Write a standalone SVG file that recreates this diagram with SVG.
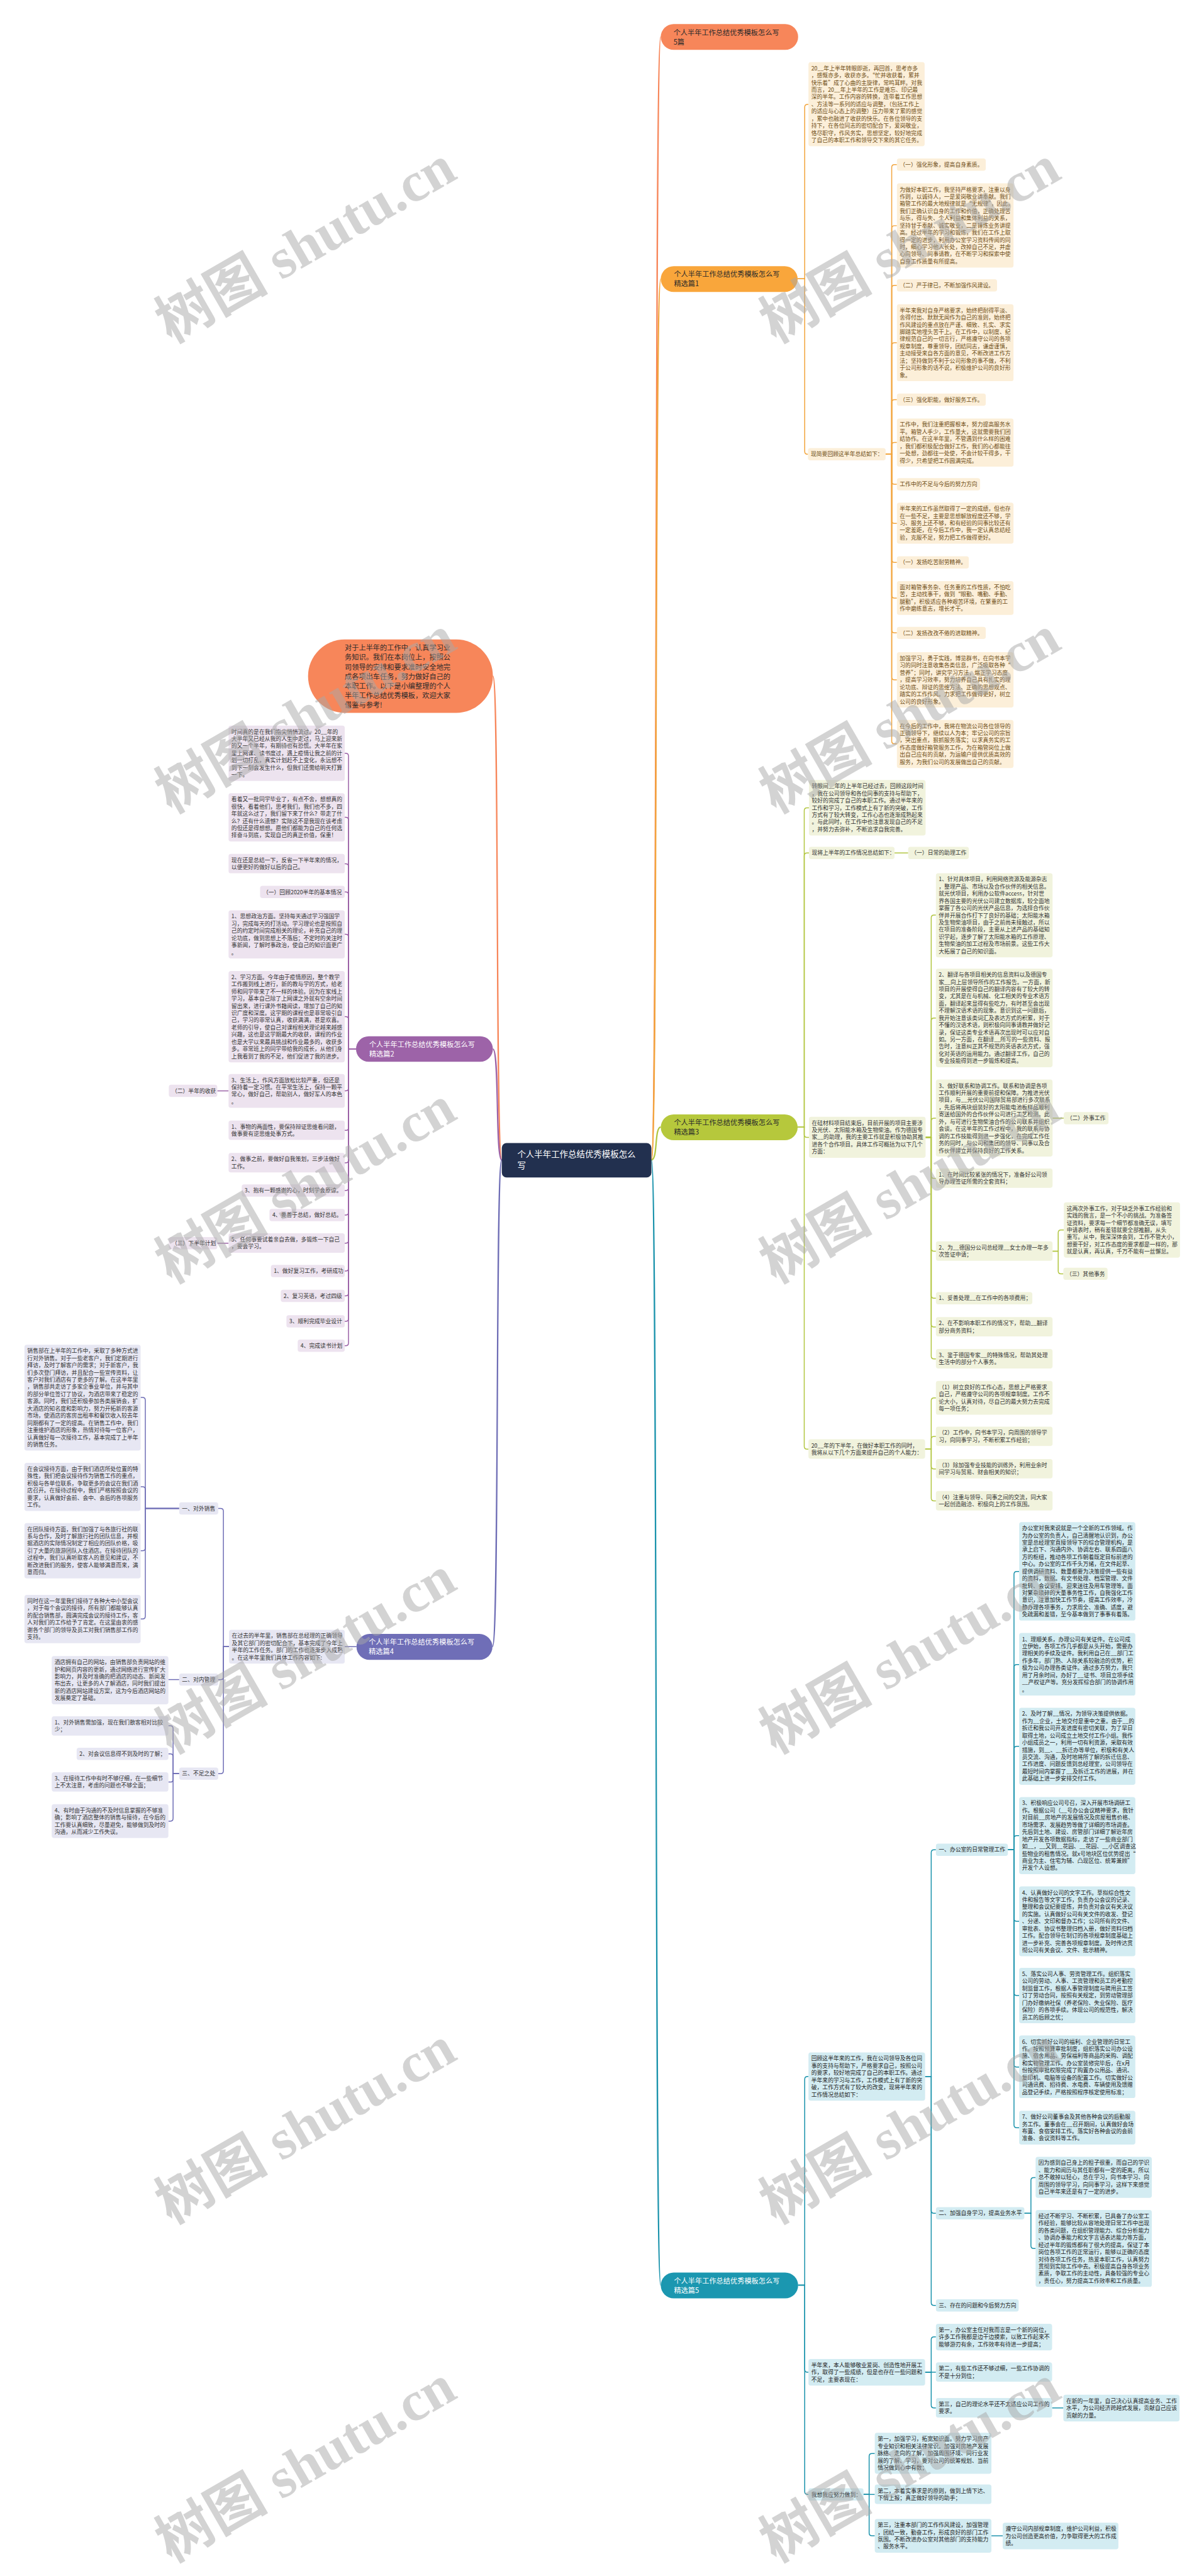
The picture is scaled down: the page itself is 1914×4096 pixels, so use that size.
<svg xmlns="http://www.w3.org/2000/svg" width="1914" height="4096" viewBox="0 0 1914 4096">
<style>
text{font-family:"Noto Sans CJK SC","Noto Sans",sans-serif;font-size:11.8px}
.bt{font-size:15px}
.rt{font-size:18px;fill:#fff}
.o rect{fill:#FCEFD9}.o text{fill:#6e4d14}
.p rect{fill:#EDE3EF}.p text{fill:#333}
.g rect{fill:#F1F3DD}.g text{fill:#333}
.s rect{fill:#E7E7F3}.s text{fill:#333}
.t rect{fill:#D3ECF2}.t text{fill:#222}
.c{fill:none;stroke-width:2}
.m{fill:none;stroke-width:3}
.co{stroke:#F2A53D}.cp{stroke:#9C62A7}.cg{stroke:#B2C640}.cs{stroke:#6E6DB5}.ct{stroke:#1B93AC}.cc{stroke:#F7865A}
.wm text{font-family:"Liberation Serif","Noto Sans CJK SC",serif;font-size:120px;font-weight:bold;fill:#a8a8a8;opacity:.5}
</style>
<rect width="1914" height="4096" fill="#fff"/>
<g transform="scale(0.747656)">
<g id="connectors">
<path class="m cc" d="M1385 2467C1399 2467 1391 78 1405 78"/>
<path class="m co" d="M1385 2467C1399 2467 1391 593 1405 593"/>
<path class="m cg" d="M1385 2467C1399 2467 1391 2397 1405 2397"/>
<path class="m ct" d="M1385 2467C1399 2467 1391 4860 1405 4860"/>
<path class="m cc" d="M1067 2467C1053 2467 1062 1438 1048 1438"/>
<path class="m cp" d="M1067 2467C1053 2467 1062 2231 1048 2231"/>
<path class="m cs" d="M1067 2467C1053 2467 1062 3502 1047 3502"/>
<g class="c co">
<path d="M1696 593H1711V228Q1711 222 1717 222H1719"/>
<path d="M1696 593H1711V960Q1711 966 1717 966H1718"/>
<path d="M1883 966H1896V356Q1896 350 1902 350H1907"/>
<path d="M1883 966H1896V486Q1896 480 1902 480H1907"/>
<path d="M1883 966H1896V613Q1896 607 1902 607H1907"/>
<path d="M1883 966H1896V735Q1896 729 1902 729H1907"/>
<path d="M1883 966H1896V856Q1896 850 1902 850H1907"/>
<path d="M1883 966H1896V947Q1896 941 1902 941H1907"/>
<path d="M1883 966H1896V1024Q1896 1030 1902 1030H1907"/>
<path d="M1883 966H1896V1107Q1896 1113 1902 1113H1907"/>
<path d="M1883 966H1896V1190Q1896 1196 1902 1196H1907"/>
<path d="M1883 966H1896V1266Q1896 1272 1902 1272H1907"/>
<path d="M1883 966H1896V1340Q1896 1346 1902 1346H1907"/>
<path d="M1883 966H1896V1440Q1896 1446 1902 1446H1907"/>
<path d="M1883 966H1896V1576Q1896 1582 1902 1582H1907"/>
</g>
<g class="c cg">
<path d="M1696 2397H1710V1724Q1710 1718 1716 1718H1720"/>
<path d="M1696 2397H1710V1820Q1710 1814 1716 1814H1720"/>
<path d="M1696 2397H1710V2413Q1710 2419 1716 2419H1720"/>
<path d="M1696 2397H1710V3076Q1710 3082 1716 3082H1719"/>
<path d="M1902 1814H1931"/>
<path d="M1968 2419H1980V1952Q1980 1946 1986 1946H1990"/>
<path d="M1968 2419H1980V2171Q1980 2165 1986 2165H1990"/>
<path d="M1968 2419H1980V2384Q1980 2378 1986 2378H1990"/>
<path d="M1968 2419H1980V2500Q1980 2506 1986 2506H1990"/>
<path d="M1968 2419H1980V2655Q1980 2661 1986 2661H1990"/>
<path d="M1968 2419H1980V2755Q1980 2761 1986 2761H1990"/>
<path d="M1968 2419H1980V2816Q1980 2822 1986 2822H1990"/>
<path d="M1968 2419H1980V2884Q1980 2890 1986 2890H1990"/>
<path d="M2238 2378H2262"/>
<path d="M2238 2661H2250V2622Q2250 2616 2256 2616H2262"/>
<path d="M2238 2661H2250V2703Q2250 2709 2256 2709H2261"/>
<path d="M1967 3082H1980V2979Q1980 2973 1986 2973H1990"/>
<path d="M1967 3082H1980V3061Q1980 3055 1986 3055H1990"/>
<path d="M1967 3082H1980V3118Q1980 3124 1986 3124H1990"/>
<path d="M1967 3082H1980V3186Q1980 3192 1986 3192H1990"/>
</g>
<g class="c ct">
<path d="M1697 4860H1711V4422Q1711 4416 1717 4416H1719"/>
<path d="M1697 4860H1711V5039Q1711 5045 1717 5045H1719"/>
<path d="M1697 4860H1711V5299Q1711 5305 1717 5305H1719"/>
<path d="M1967 4416H1980V3940Q1980 3934 1986 3934H1990"/>
<path d="M1967 4416H1980V4701Q1980 4707 1986 4707H1990"/>
<path d="M1967 4416H1980V4897Q1980 4903 1986 4903H1990"/>
<path d="M2143 3934H2156V3348Q2156 3342 2162 3342H2167"/>
<path d="M2143 3934H2156V3546Q2156 3540 2162 3540H2167"/>
<path d="M2143 3934H2156V3720Q2156 3714 2162 3714H2167"/>
<path d="M2143 3934H2156V3910Q2156 3904 2162 3904H2167"/>
<path d="M2143 3934H2156V4080Q2156 4086 2162 4086H2167"/>
<path d="M2143 3934H2156V4238Q2156 4244 2162 4244H2167"/>
<path d="M2143 3934H2156V4390Q2156 4396 2162 4396H2167"/>
<path d="M2143 3934H2156V4519Q2156 4525 2162 4525H2167"/>
<path d="M2178 4707H2192V4637Q2192 4631 2198 4631H2202"/>
<path d="M2178 4707H2192V4776Q2192 4782 2198 4782H2202"/>
<path d="M1967 5045H1980V4976Q1980 4970 1986 4970H1990"/>
<path d="M1967 5045H1990"/>
<path d="M1967 5045H1980V5115Q1980 5121 1986 5121H1990"/>
<path d="M2237 5121H2261"/>
<path d="M1836 5305H1848V5224Q1848 5218 1854 5218H1860"/>
<path d="M1836 5305H1860"/>
<path d="M1836 5305H1848V5387Q1848 5393 1854 5393H1860"/>
<path d="M2108 5393H2132"/>
</g>
<g class="c cp">
<path d="M757 2231H741V1608Q741 1602 735 1602H733"/>
<path d="M757 2231H741V1744Q741 1738 735 1738H733"/>
<path d="M757 2231H741V1843Q741 1837 735 1837H733"/>
<path d="M757 2231H741V1903Q741 1897 735 1897H733"/>
<path d="M757 2231H741V1993Q741 1987 735 1987H733"/>
<path d="M757 2231H741V2168Q741 2162 735 2162H733"/>
<path d="M757 2231H741V2314Q741 2320 735 2320H733"/>
<path d="M757 2231H741V2398Q741 2404 735 2404H733"/>
<path d="M757 2231H741V2467Q741 2473 735 2473H733"/>
<path d="M757 2231H741V2526Q741 2532 735 2532H733"/>
<path d="M757 2231H741V2578Q741 2584 735 2584H733"/>
<path d="M757 2231H741V2638Q741 2644 735 2644H733"/>
<path d="M757 2231H741V2697Q741 2703 735 2703H733"/>
<path d="M757 2231H741V2750Q741 2756 735 2756H733"/>
<path d="M757 2231H741V2804Q741 2810 735 2810H733"/>
<path d="M757 2231H741V2856Q741 2862 735 2862H733"/>
<path d="M486 2320H462"/>
<path d="M486 2644H462"/>
</g>
<g class="c cs">
<path d="M758 3502H733"/>
<path d="M487 3502H475V3214Q475 3208 469 3208H464"/>
<path d="M487 3502H475V3566Q475 3572 469 3572H464"/>
<path d="M487 3502H475V3766Q475 3772 469 3772H464"/>
<path d="M381 3572H358"/>
<path d="M381 3772H368V3676Q368 3670 362 3670H358"/>
<path d="M381 3772H368V3736Q368 3730 362 3730H358"/>
<path d="M381 3772H368V3784Q368 3790 362 3790H358"/>
<path d="M381 3772H368V3867Q368 3873 362 3873H358"/>
<path d="M381 3208H309V2978Q309 2972 303 2972H299"/>
<path d="M381 3208H309V3168Q309 3162 303 3162H299"/>
<path d="M381 3208H309V3292Q309 3298 303 3298H299"/>
<path d="M381 3208H309V3437Q309 3443 303 3443H299"/>
</g>
</g>

<g id="root"><rect x="1067" y="2431" width="318" height="73" rx="10" fill="#22304F"/><text class="rt" x="1100" y="2461.5"><tspan x="1100">个人半年工作总结优秀模板怎么</tspan><tspan x="1100" dy="24">写</tspan></text></g>

<g id="b-5pian"><rect x="1405" y="51" width="292" height="55" rx="27.5" fill="#F7865A"/><text class="bt" x="1432" y="74.4" fill="#2a2a2a"><tspan x="1432">个人半年工作总结优秀模板怎么写</tspan><tspan x="1432" dy="20">5篇</tspan></text></g>
<g id="b-1"><rect x="1405" y="566" width="291" height="55" rx="27.5" fill="#F9A63B"/><text class="bt" x="1433" y="588.4" fill="#2a2a2a"><tspan x="1433">个人半年工作总结优秀模板怎么写</tspan><tspan x="1433" dy="20">精选篇1</tspan></text></g>
<g id="b-3"><rect x="1405" y="2370" width="291" height="55" rx="27.5" fill="#B6C83C"/><text class="bt" x="1433" y="2393.4" fill="#2a2a2a"><tspan x="1433">个人半年工作总结优秀模板怎么写</tspan><tspan x="1433" dy="20">精选篇3</tspan></text></g>
<g id="b-5"><rect x="1405" y="4833" width="292" height="55" rx="27.5" fill="#1B97B0"/><text class="bt" x="1433" y="4856.4" fill="#fff"><tspan x="1433">个人半年工作总结优秀模板怎么写</tspan><tspan x="1433" dy="20">精选篇5</tspan></text></g>
<g id="b-2"><rect x="757" y="2204" width="291" height="54" rx="27" fill="#9D63A8"/><text class="bt" x="785" y="2226.4" fill="#fff"><tspan x="785">个人半年工作总结优秀模板怎么写</tspan><tspan x="785" dy="20">精选篇2</tspan></text></g>
<g id="b-4"><rect x="758" y="3475" width="289" height="55" rx="27.5" fill="#6F6EB7"/><text class="bt" x="784" y="3497.4" fill="#fff"><tspan x="784">个人半年工作总结优秀模板怎么写</tspan><tspan x="784" dy="20">精选篇4</tspan></text></g>
<g id="b-intro"><rect x="655" y="1360" width="393" height="156" rx="78" fill="#F7865A"/><text class="bt" x="733" y="1383.4" fill="#2a2a2a"><tspan x="733">对于上半年的工作中，认真学习业</tspan><tspan x="733" dy="20.2">务知识。我们在本岗位上，按照公</tspan><tspan x="733" dy="20.2">司领导的安排和要求准时安全地完</tspan><tspan x="733" dy="20.2">成各项出车任务，努力做好自己的</tspan><tspan x="733" dy="20.2">本职工作。以下是小编整理的个人</tspan><tspan x="733" dy="20.2">半年工作总结优秀模板，欢迎大家</tspan><tspan x="733" dy="20.2">借鉴与参考!</tspan></text></g>

<g class="o">
<g id="o-p0"><rect x="1719" y="132" width="247" height="179" rx="5"/><text x="1725" y="149.3"><tspan x="1725">20__年上半年转眼即逝，再回首，思考亦多</tspan><tspan x="1725" dy="15.3">，感慨亦多，收获亦多。“忙并收获着，累并</tspan><tspan x="1725" dy="15.3">快乐着”成了心曲的主旋律，常鸣耳畔。对我</tspan><tspan x="1725" dy="15.3">而言，20__年上半年的工作是难忘、印记最</tspan><tspan x="1725" dy="15.3">深的半年。工作内容的转换，连带着工作思想</tspan><tspan x="1725" dy="15.3">、方法等一系列的适应与调整，（包括工作上</tspan><tspan x="1725" dy="15.3">的适应与心态上的调整）压力带来了累的感觉</tspan><tspan x="1725" dy="15.3">，累中也融进了收获的快乐。在各位领导的支</tspan><tspan x="1725" dy="15.3">持下，在各位同志的密切配合下，爱岗敬业，</tspan><tspan x="1725" dy="15.3">恪尽职守，作风务实，思想坚定，较好地完成</tspan><tspan x="1725" dy="15.3">了自己的本职工作和领导交下来的其它任务。</tspan></text></g>
<g id="o-sum"><rect x="1718" y="953" width="165" height="26" rx="5"/><text x="1724" y="970.3">现简要回顾这半年总结如下：</text></g>
<g id="o-c1"><rect x="1907" y="337" width="189" height="26" rx="5"/><text x="1913" y="354.3">（一）强化形象，提高自身素质。</text></g>
<g id="o-c2"><rect x="1907" y="390" width="248" height="179" rx="5"/><text x="1913" y="407.3"><tspan x="1913">为做好本职工作，我坚持严格要求，注重以身</tspan><tspan x="1913" dy="15.3">作则，以诚待人，一是爱岗敬业讲奉献。我们</tspan><tspan x="1913" dy="15.3">箱管工作的最大地规律就是“无规律”，因此，</tspan><tspan x="1913" dy="15.3">我们正确认识自身的工作和价值，正确处理苦</tspan><tspan x="1913" dy="15.3">与乐，得与失、个人利益和集体利益的关系，</tspan><tspan x="1913" dy="15.3">坚持甘于奉献、诚实敬业，二是锤炼业务讲提</tspan><tspan x="1913" dy="15.3">高。经过半年的学习和锻炼，我们在工作上取</tspan><tspan x="1913" dy="15.3">得一定的进步，利用办公室学习资料传阅的同</tspan><tspan x="1913" dy="15.3">时，细心学习他人长处，改掉自己不足，并虚</tspan><tspan x="1913" dy="15.3">心向领导、同事请教，在不断学习和探索中使</tspan><tspan x="1913" dy="15.3">自身工作质量有所提高。</tspan></text></g>
<g id="o-c3"><rect x="1907" y="594" width="213" height="26" rx="5"/><text x="1913" y="611.3">（二）严于律已，不断加强作风建设。</text></g>
<g id="o-c4"><rect x="1907" y="647" width="248" height="163.7" rx="5"/><text x="1913" y="664.3"><tspan x="1913">半年来我对自身严格要求，始终把耐得平淡、</tspan><tspan x="1913" dy="15.3">舍得付出、默默无闻作为自己的准则，始终把</tspan><tspan x="1913" dy="15.3">作风建设的重点放在严谨、细致、扎实、求实</tspan><tspan x="1913" dy="15.3">脚踏实地埋头苦干上。在工作中，以制度、纪</tspan><tspan x="1913" dy="15.3">律规范自己的一切言行，严格遵守公司的各项</tspan><tspan x="1913" dy="15.3">规章制度，尊重领导，团结同志，谦虚谨慎，</tspan><tspan x="1913" dy="15.3">主动接受来自各方面的意见，不断改进工作方</tspan><tspan x="1913" dy="15.3">法；坚持做到不利于公司形象的事不做，不利</tspan><tspan x="1913" dy="15.3">于公司形象的话不说，积极维护公司的良好形</tspan><tspan x="1913" dy="15.3">象。</tspan></text></g>
<g id="o-c5"><rect x="1907" y="837" width="189" height="26" rx="5"/><text x="1913" y="854.3">（三）强化职能，做好服务工作。</text></g>
<g id="o-c6"><rect x="1907" y="890" width="248" height="102.5" rx="5"/><text x="1913" y="907.3"><tspan x="1913">工作中，我们注重把握根本，努力提高服务水</tspan><tspan x="1913" dy="15.3">平。箱管人手少，工作量大，这就需要我们团</tspan><tspan x="1913" dy="15.3">结协作。在这半年里，不管遇到什么样的困难</tspan><tspan x="1913" dy="15.3">，我们都积极配合做好工作，我们的心都能往</tspan><tspan x="1913" dy="15.3">一处想，劲都往一处使，不会计较干得多，干</tspan><tspan x="1913" dy="15.3">得少，只希望把工作圆满完成。</tspan></text></g>
<g id="o-c7"><rect x="1907" y="1017" width="177" height="26" rx="5"/><text x="1913" y="1034.3">工作中的不足与今后的努力方向</text></g>
<g id="o-c8"><rect x="1907" y="1069" width="248" height="87.2" rx="5"/><text x="1913" y="1086.3"><tspan x="1913">半年来的工作虽然取得了一定的成绩，但也存</tspan><tspan x="1913" dy="15.3">在一些不足，主要是思想解放程度还不够，学</tspan><tspan x="1913" dy="15.3">习、服务上还不够，和有经验的同事比较还有</tspan><tspan x="1913" dy="15.3">一定差距，在今后工作中，我一定认真总结经</tspan><tspan x="1913" dy="15.3">验，克服不足，努力把工作做得更好。</tspan></text></g>
<g id="o-c9"><rect x="1907" y="1183" width="153" height="26" rx="5"/><text x="1913" y="1200.3">（一）发扬吃苦耐劳精神。</text></g>
<g id="o-c10"><rect x="1907" y="1236" width="248" height="71.9" rx="5"/><text x="1913" y="1253.3"><tspan x="1913">面对箱管事务杂、任务重的工作性质，不怕吃</tspan><tspan x="1913" dy="15.3">苦，主动找事干，做到“眼勤、嘴勤、手勤、</tspan><tspan x="1913" dy="15.3">腿勤”，积极适应各种艰苦环境，在繁重的工</tspan><tspan x="1913" dy="15.3">作中磨练意志，增长才干。</tspan></text></g>
<g id="o-c11"><rect x="1907" y="1333" width="189" height="26" rx="5"/><text x="1913" y="1350.3">（二）发扬孜孜不倦的进取精神。</text></g>
<g id="o-c12"><rect x="1907" y="1387" width="248" height="117.8" rx="5"/><text x="1913" y="1404.3"><tspan x="1913">加强学习，勇于实践，博览群书，在向书本学</tspan><tspan x="1913" dy="15.3">习的同时注意收集各类信息，广泛吸取各种“</tspan><tspan x="1913" dy="15.3">营养”；同时，讲究学习方法，端正学习态度</tspan><tspan x="1913" dy="15.3">，提高学习效率，努力培养自己具有扎实的理</tspan><tspan x="1913" dy="15.3">论功底、辩证的思维方法、正确的思想观点、</tspan><tspan x="1913" dy="15.3">踏实的工作作风。力求把工作做得更好，树立</tspan><tspan x="1913" dy="15.3">公司的良好形象。</tspan></text></g>
<g id="o-c13"><rect x="1907" y="1531" width="248" height="102.5" rx="5"/><text x="1913" y="1548.3"><tspan x="1913">在今后的工作中，我将在物流公司各位领导的</tspan><tspan x="1913" dy="15.3">正确领导下，继续以人为本；牢记公司的宗旨</tspan><tspan x="1913" dy="15.3">，突出重点，狠抓服务落实；以求真务实的工</tspan><tspan x="1913" dy="15.3">作态度做好箱管服务工作，为在箱管岗位上做</tspan><tspan x="1913" dy="15.3">出自己应有的贡献，为运输户提供优质高效的</tspan><tspan x="1913" dy="15.3">服务，为我们公司的发展做出自己的贡献。</tspan></text></g>
</g>

<g class="g">
<g id="g-1"><rect x="1720" y="1659" width="248" height="117.8" rx="5"/><text x="1726" y="1676.3"><tspan x="1726">转眼间__年的上半年已经过去，回顾这段时间</tspan><tspan x="1726" dy="15.3">，我在公司领导和各位同事的支持与帮助下，</tspan><tspan x="1726" dy="15.3">较好的完成了自己的本职工作。通过半年来的</tspan><tspan x="1726" dy="15.3">工作和学习，工作模式上有了新的突破，工作</tspan><tspan x="1726" dy="15.3">方式有了较大转变，工作心态也逐渐成熟起来</tspan><tspan x="1726" dy="15.3">。与此同时，在工作中也注意发现自己的不足</tspan><tspan x="1726" dy="15.3">，并努力去弥补，不断追求自我完善。</tspan></text></g>
<g id="g-2"><rect x="1720" y="1801" width="182" height="26" rx="5"/><text x="1726" y="1818.3">现将上半年的工作情况总结如下：</text></g>
<g id="g-2a"><rect x="1931" y="1801" width="129" height="26" rx="5"/><text x="1937" y="1818.3">（一）日常的助理工作</text></g>
<g id="g-3"><rect x="1720" y="2375" width="248" height="87.2" rx="5"/><text x="1726" y="2392.3"><tspan x="1726">在硅材料项目结束后，目前开展的项目主要涉</tspan><tspan x="1726" dy="15.3">及光伏、太阳能水箱及生物柴油。作为德国专</tspan><tspan x="1726" dy="15.3">家__的助理，我的主要工作就是积极协助其推</tspan><tspan x="1726" dy="15.3">进各个合作项目。具体工作可概括为以下几个</tspan><tspan x="1726" dy="15.3">方面：</tspan></text></g>
<g id="g-3c1"><rect x="1990" y="1857" width="248" height="179" rx="5"/><text x="1996" y="1874.3"><tspan x="1996">1、针对具体项目，利用网络资源及能源杂志</tspan><tspan x="1996" dy="15.3">，整理产品、市场以及合作伙伴的相关信息。</tspan><tspan x="1996" dy="15.3">就光伏项目，利用办公软件access，针对世</tspan><tspan x="1996" dy="15.3">界各国主要的光伏公司建立数据库，较全面地</tspan><tspan x="1996" dy="15.3">掌握了各公司的光伏产品信息，为选择合作伙</tspan><tspan x="1996" dy="15.3">伴并开展合作打下了良好的基础；太阳能水箱</tspan><tspan x="1996" dy="15.3">及生物柴油项目，由于之前尚未接触过，所以</tspan><tspan x="1996" dy="15.3">在项目的准备阶段，主要从上述产品的基础知</tspan><tspan x="1996" dy="15.3">识学起，逐步了解了太阳能水箱的工作原理、</tspan><tspan x="1996" dy="15.3">生物柴油的加工过程及市场前景。这些工作大</tspan><tspan x="1996" dy="15.3">大拓展了自己的知识面。</tspan></text></g>
<g id="g-3c2"><rect x="1990" y="2060" width="248" height="209.6" rx="5"/><text x="1996" y="2077.3"><tspan x="1996">2、翻译与各项目相关的信息资料以及德国专</tspan><tspan x="1996" dy="15.3">家__向上层领导所作的工作报告。一方面，新</tspan><tspan x="1996" dy="15.3">项目的开展使得自己的翻译内容有了较大的转</tspan><tspan x="1996" dy="15.3">变，尤其是在与机械、化工相关的专业术语方</tspan><tspan x="1996" dy="15.3">面，翻译起来显得有些吃力，有时甚至会出现</tspan><tspan x="1996" dy="15.3">不理解汉语术语的现象。意识到这一问题后，</tspan><tspan x="1996" dy="15.3">我开始注意该类词汇及表达方式的积累，对于</tspan><tspan x="1996" dy="15.3">不懂的汉语术语，则积极向同事请教并做好记</tspan><tspan x="1996" dy="15.3">录，保证这类专业术语再次出现时可以应对自</tspan><tspan x="1996" dy="15.3">如。另一方面，在翻译__所写的一些资料、报</tspan><tspan x="1996" dy="15.3">告时，注意纠正其不规范的英语表达方式，强</tspan><tspan x="1996" dy="15.3">化对英语的运用能力。通过翻译工作，自己的</tspan><tspan x="1996" dy="15.3">专业技能得到进一步锻炼和提高。</tspan></text></g>
<g id="g-3c3"><rect x="1990" y="2296" width="248" height="163.7" rx="5"/><text x="1996" y="2313.3"><tspan x="1996">3、做好联系和协调工作。联系和协调是各项</tspan><tspan x="1996" dy="15.3">工作顺利开展的重要前提和保障。为推进光伏</tspan><tspan x="1996" dy="15.3">项目，与__光伏公司国际贸易部进行多次联系</tspan><tspan x="1996" dy="15.3">，先后将两块组装好的太阳能电池板样品顺利</tspan><tspan x="1996" dy="15.3">寄送给国外的合作伙伴公司进行工艺检测。此</tspan><tspan x="1996" dy="15.3">外，与可进行生物柴油合作的公司联系并组织</tspan><tspan x="1996" dy="15.3">会谈。在这半年的工作过程中，我的联系与协</tspan><tspan x="1996" dy="15.3">调的工作技能得到进一步强化，在完成工作任</tspan><tspan x="1996" dy="15.3">务的同时，与公司和集团的领导、同事以及合</tspan><tspan x="1996" dy="15.3">作伙伴建立并保持良好的工作关系。</tspan></text></g>
<g id="g-3c3a"><rect x="2262" y="2365" width="95" height="26" rx="5"/><text x="2268" y="2382.3">（二）外事工作</text></g>
<g id="g-3c4"><rect x="1990" y="2485" width="248" height="41.3" rx="5"/><text x="1996" y="2502.3"><tspan x="1996">1、在时间比较紧张的情况下，准备好公司领</tspan><tspan x="1996" dy="15.3">导办理签证所需的全套资料；</tspan></text></g>
<g id="g-3c5a"><rect x="2262" y="2557" width="247" height="117.8" rx="5"/><text x="2268" y="2574.3"><tspan x="2268">这两次外事工作，对于缺乏外事工作经验和</tspan><tspan x="2268" dy="15.3">实践的我言，是一个不小的挑战。为准备签</tspan><tspan x="2268" dy="15.3">证资料，要求每一个细节都准确无误，填写</tspan><tspan x="2268" dy="15.3">申请表时，稍有差错就要全部推翻，从头</tspan><tspan x="2268" dy="15.3">重写。从中，我深深体会到，工作不管大小，</tspan><tspan x="2268" dy="15.3">想要干好，对工作态度的要求都是一样的，那</tspan><tspan x="2268" dy="15.3">就是认真，再认真，千万不能有一丝懈怠。</tspan></text></g>
<g id="g-3c5"><rect x="1990" y="2640" width="248" height="41.3" rx="5"/><text x="1996" y="2657.3"><tspan x="1996">2、为__德国分公司总经理__女士办理一年多</tspan><tspan x="1996" dy="15.3">次签证申请；</tspan></text></g>
<g id="g-3c5b"><rect x="2261" y="2696" width="94" height="26" rx="5"/><text x="2267" y="2713.3">（三）其他事务</text></g>
<g id="g-3c6"><rect x="1990" y="2748" width="205" height="26" rx="5"/><text x="1996" y="2765.3">1、妥善处理__在工作中的各项费用；</text></g>
<g id="g-3c7"><rect x="1990" y="2801" width="248" height="41.3" rx="5"/><text x="1996" y="2818.3"><tspan x="1996">2、在不影响本职工作的情况下，帮助__翻译</tspan><tspan x="1996" dy="15.3">部分商务资料；</tspan></text></g>
<g id="g-3c8"><rect x="1990" y="2869" width="248" height="41.3" rx="5"/><text x="1996" y="2886.3"><tspan x="1996">3、鉴于德国专家__的特殊情况，帮助其处理</tspan><tspan x="1996" dy="15.3">生活中的部分个人事务。</tspan></text></g>
<g id="g-4"><rect x="1719" y="3061" width="248" height="41.3" rx="5"/><text x="1725" y="3078.3"><tspan x="1725">20__年的下半年，在做好本职工作的同时，</tspan><tspan x="1725" dy="15.3">我将从以下几个方面来提升自己的个人能力：</tspan></text></g>
<g id="g-4c1"><rect x="1990" y="2937" width="248" height="71.9" rx="5"/><text x="1996" y="2954.3"><tspan x="1996">（1）树立良好的工作心态，思想上严格要求</tspan><tspan x="1996" dy="15.3">自己，严格遵守公司的各项规章制度。工作不</tspan><tspan x="1996" dy="15.3">论大小，认真对待，尽自己的最大努力去完成</tspan><tspan x="1996" dy="15.3">每一项任务；</tspan></text></g>
<g id="g-4c2"><rect x="1990" y="3034" width="248" height="41.3" rx="5"/><text x="1996" y="3051.3"><tspan x="1996">（2）工作中，向书本学习，向周围的领导学</tspan><tspan x="1996" dy="15.3">习，向同事学习，不断积累工作经验；</tspan></text></g>
<g id="g-4c3"><rect x="1990" y="3103" width="248" height="41.3" rx="5"/><text x="1996" y="3120.3"><tspan x="1996">（3）除加强专业技能的训练外，利用业余时</tspan><tspan x="1996" dy="15.3">间学习与贸易、财会相关的知识；</tspan></text></g>
<g id="g-4c4"><rect x="1990" y="3171" width="248" height="41.3" rx="5"/><text x="1996" y="3188.3"><tspan x="1996">（4）注重与领导、同事之间的交流，同大家</tspan><tspan x="1996" dy="15.3">一起创造融洽、积极向上的工作氛围。</tspan></text></g>
</g>

<g class="t">
<g id="t-0"><rect x="2167" y="3237" width="247" height="209.6" rx="5"/><text x="2173" y="3254.3"><tspan x="2173">办公室对我来说就是一个全新的工作领域。作</tspan><tspan x="2173" dy="15.3">为办公室的负责人，自己清醒地认识到，办公</tspan><tspan x="2173" dy="15.3">室是总经理室直接领导下的综合管理机构，是</tspan><tspan x="2173" dy="15.3">承上启下、沟通内外、协调左右、联系四面八</tspan><tspan x="2173" dy="15.3">方的枢纽，推动各项工作朝着既定目标前进的</tspan><tspan x="2173" dy="15.3">中心。办公室的工作千头万绪，在文件起草、</tspan><tspan x="2173" dy="15.3">提供调研资料、数量都要为决策提供一些有益</tspan><tspan x="2173" dy="15.3">的资料，数据。有文书处理、档案管理、文件</tspan><tspan x="2173" dy="15.3">批转、会议安排、迎来送往及用车管理等。面</tspan><tspan x="2173" dy="15.3">对繁杂琐碎的大量事务性工作，自我强化工作</tspan><tspan x="2173" dy="15.3">意识，注意加快工作节奏，提高工作效率，冷</tspan><tspan x="2173" dy="15.3">静办理各项事务，力求周全、准确、适度，避</tspan><tspan x="2173" dy="15.3">免疏漏和差错，至今基本做到了事事有着落。</tspan></text></g>
<g id="t-1"><rect x="2167" y="3473" width="247" height="133.1" rx="5"/><text x="2173" y="3490.3"><tspan x="2173">1、理顺关系，办理公司有关证件。在公司成</tspan><tspan x="2173" dy="15.3">立伊始，各项工作几乎都是从头开始，需要办</tspan><tspan x="2173" dy="15.3">理相关的手续及证件。我利用自己在__部门工</tspan><tspan x="2173" dy="15.3">作多年，部门熟、人际关系较融洽的优势，积</tspan><tspan x="2173" dy="15.3">极为公司办理各类证件。通过多方努力，我只</tspan><tspan x="2173" dy="15.3">用了月余时间，办好了__证书、项目立项手续</tspan><tspan x="2173" dy="15.3">__产权证产等。充分发挥综合部门的协调作用</tspan><tspan x="2173" dy="15.3">。</tspan></text></g>
<g id="t-2"><rect x="2167" y="3632" width="247" height="163.7" rx="5"/><text x="2173" y="3649.3"><tspan x="2173">2、及时了解__情况，为领导决策提供依据。</tspan><tspan x="2173" dy="15.3">作为__企业，土地交付是重中之重。由于__的</tspan><tspan x="2173" dy="15.3">拆迁和我公司开发进度有密切关联，为了早日</tspan><tspan x="2173" dy="15.3">取得土地，公司成立土地交付工作小组。我作</tspan><tspan x="2173" dy="15.3">小组成员之一，利用一切有利资源，采取有效</tspan><tspan x="2173" dy="15.3">措施，到__、__拆迁办等单位，积极和有关人</tspan><tspan x="2173" dy="15.3">员交流、沟通，及时地将所了解的拆迁信息、</tspan><tspan x="2173" dy="15.3">工作进度、问题反馈到总经理室，公司领导在</tspan><tspan x="2173" dy="15.3">最短时间内掌握了__及拆迁工作的进展，并在</tspan><tspan x="2173" dy="15.3">此基础上进一步安排交付工作。</tspan></text></g>
<g id="t-3"><rect x="2167" y="3822" width="247" height="163.7" rx="5"/><text x="2173" y="3839.3"><tspan x="2173">3、积极响应公司号召，深入开展市场调研工</tspan><tspan x="2173" dy="15.3">作。根据公司（__号办公会议精神要求，我针</tspan><tspan x="2173" dy="15.3">对目前__房地产的发展情况及房屋租售价格、</tspan><tspan x="2173" dy="15.3">市场需求、发展趋势等做了详细的市场调查。</tspan><tspan x="2173" dy="15.3">先后到土地、建设、房管部门详细了解近年房</tspan><tspan x="2173" dy="15.3">地产开发各项数据指标，走访了一些商业部门</tspan><tspan x="2173" dy="15.3">如__，__又到__花园、__花园、__小区调查这</tspan><tspan x="2173" dy="15.3">些物业的租售情况。就x号地块区位优势提出“</tspan><tspan x="2173" dy="15.3">商业为主、住宅为辅、凸现区位、统筹兼顾”</tspan><tspan x="2173" dy="15.3">开发个人设想。</tspan></text></g>
<g id="t-h1"><rect x="1990" y="3921" width="153" height="26" rx="5"/><text x="1996" y="3938.3">一、办公室的日常管理工作</text></g>
<g id="t-4"><rect x="2167" y="4012" width="247" height="148.4" rx="5"/><text x="2173" y="4029.3"><tspan x="2173">4、认真做好公司的文字工作。草拟综合性文</tspan><tspan x="2173" dy="15.3">件和报告等文字工作，负责办公会议的记录、</tspan><tspan x="2173" dy="15.3">整理和会议纪要提炼，并负责对会议有关决议</tspan><tspan x="2173" dy="15.3">的实施。认真做好公司有关文件的收发、登记</tspan><tspan x="2173" dy="15.3">、分递、文印和督办工作；公司所有的文件、</tspan><tspan x="2173" dy="15.3">审批表、协议书整理归档入册，做好资料归档</tspan><tspan x="2173" dy="15.3">工作。配合领导在制订的各项规章制度基础上</tspan><tspan x="2173" dy="15.3">进一步补充、完善各项规章制度。及时传达贯</tspan><tspan x="2173" dy="15.3">彻公司有关会议、文件、批示精神。</tspan></text></g>
<g id="t-5"><rect x="2167" y="4185" width="247" height="117.8" rx="5"/><text x="2173" y="4202.3"><tspan x="2173">5、落实公司人事、劳资管理工作。组织落实</tspan><tspan x="2173" dy="15.3">公司的劳动、人事、工资管理和员工的考勤控</tspan><tspan x="2173" dy="15.3">制监督工作，根据人事管理制度与聘用员工签</tspan><tspan x="2173" dy="15.3">订了劳动合同，按照有关规定，到劳动管理部</tspan><tspan x="2173" dy="15.3">门办好缴纳社保（养老保险、失业保险、医疗</tspan><tspan x="2173" dy="15.3">保险）的各项手续。体现公司的规范性，解决</tspan><tspan x="2173" dy="15.3">员工的后顾之忧；</tspan></text></g>
<g id="t-6"><rect x="2167" y="4329" width="247" height="133.1" rx="5"/><text x="2173" y="4346.3"><tspan x="2173">6、切实抓好公司的福利、企业管理的日常工</tspan><tspan x="2173" dy="15.3">作。按照预算审批制度，组织落实公司办公设</tspan><tspan x="2173" dy="15.3">施、宿舍用品、劳保福利等商品的采购、调配</tspan><tspan x="2173" dy="15.3">和实物管理工作。办公室装修完毕后，在x月</tspan><tspan x="2173" dy="15.3">份按照审批权限完成了购置办公用品、通讯、</tspan><tspan x="2173" dy="15.3">复印机、电脑等设备的配置工作。切实做好公</tspan><tspan x="2173" dy="15.3">司通讯费、招待费、水电费、车辆使用及馈赠</tspan><tspan x="2173" dy="15.3">品登记手续，严格按照程序核定使用标准；</tspan></text></g>
<g id="t-7"><rect x="2167" y="4489" width="247" height="71.9" rx="5"/><text x="2173" y="4506.3"><tspan x="2173">7、做好公司董事会及其他各种会议的后勤服</tspan><tspan x="2173" dy="15.3">务工作。董事会在__召开期间，认真做好会场</tspan><tspan x="2173" dy="15.3">布置、食宿安排工作。落实好各种会议的会前</tspan><tspan x="2173" dy="15.3">准备、会议资料等工作。</tspan></text></g>
<g id="t-review"><rect x="1719" y="4365" width="248" height="102.5" rx="5"/><text x="1725" y="4382.3"><tspan x="1725">回顾这半年来的工作，我在公司领导及各位同</tspan><tspan x="1725" dy="15.3">事的支持与帮助下，严格要求自己，按照公司</tspan><tspan x="1725" dy="15.3">的要求，较好地完成了自己的本职工作。通过</tspan><tspan x="1725" dy="15.3">半年来的学习与工作，工作模式上有了新的突</tspan><tspan x="1725" dy="15.3">破，工作方式有了较大的改变，现将半年来的</tspan><tspan x="1725" dy="15.3">工作情况总结如下：</tspan></text></g>
<g id="t-h2"><rect x="1990" y="4694" width="188" height="26" rx="5"/><text x="1996" y="4711.3">二、加强自身学习，提高业务水平</text></g>
<g id="t-s1"><rect x="2202" y="4587" width="247" height="87.2" rx="5"/><text x="2208" y="4604.3"><tspan x="2208">因为感到自己身上的担子很重，而自己的学识</tspan><tspan x="2208" dy="15.3">、能力和阅历与其任职都有一定的距离，所以</tspan><tspan x="2208" dy="15.3">总不敢掉以轻心，总在学习，向书本学习、向</tspan><tspan x="2208" dy="15.3">周围的领导学习，向同事学习，这样下来感觉</tspan><tspan x="2208" dy="15.3">自己半年来还是有了一定的进步。</tspan></text></g>
<g id="t-s2"><rect x="2202" y="4700" width="247" height="163.7" rx="5"/><text x="2208" y="4717.3"><tspan x="2208">经过不断学习、不断积累，已具备了办公室工</tspan><tspan x="2208" dy="15.3">作经验，能够比较从容地处理日常工作中出现</tspan><tspan x="2208" dy="15.3">的各类问题，在组织管理能力、综合分析能力</tspan><tspan x="2208" dy="15.3">、协调办事能力和文字言语表达能力等方面，</tspan><tspan x="2208" dy="15.3">经过半年的锻炼都有了很大的提高，保证了本</tspan><tspan x="2208" dy="15.3">岗位各项工作的正常运行，能够以正确的态度</tspan><tspan x="2208" dy="15.3">对待各项工作任务，热爱本职工作，认真努力</tspan><tspan x="2208" dy="15.3">贯彻到实际工作中去。积极提高自身各项业务</tspan><tspan x="2208" dy="15.3">素质，争取工作的主动性，具备较强的专业心</tspan><tspan x="2208" dy="15.3">，责任心，努力提高工作效率和工作质量。</tspan></text></g>
<g id="t-h3"><rect x="1990" y="4890" width="176" height="26" rx="5"/><text x="1996" y="4907.3">三、存在的问题和今后努力方向</text></g>
<g id="t-prob"><rect x="1719" y="5017" width="248" height="56.6" rx="5"/><text x="1725" y="5034.3"><tspan x="1725">半年来，本人能够敬业爱岗、创造性地开展工</tspan><tspan x="1725" dy="15.3">作，取得了一些成绩，但是也存在一些问题和</tspan><tspan x="1725" dy="15.3">不足，主要表现在：</tspan></text></g>
<g id="t-p1"><rect x="1990" y="4942" width="247" height="56.6" rx="5"/><text x="1996" y="4959.3"><tspan x="1996">第一，办公室主任对我而言是一个新的岗位，</tspan><tspan x="1996" dy="15.3">许多工作我都是边干边摸索，以致工作起来不</tspan><tspan x="1996" dy="15.3">能够游刃有余，工作效率有待进一步提高；</tspan></text></g>
<g id="t-p2"><rect x="1990" y="5024" width="247" height="41.3" rx="5"/><text x="1996" y="5041.3"><tspan x="1996">第二，有些工作还不够过细，一些工作协调的</tspan><tspan x="1996" dy="15.3">不是十分到位；</tspan></text></g>
<g id="t-p3"><rect x="1990" y="5100" width="247" height="41.3" rx="5"/><text x="1996" y="5117.3"><tspan x="1996">第三，自己的理论水平还不太适应公司工作的</tspan><tspan x="1996" dy="15.3">要求。</tspan></text></g>
<g id="t-p3a"><rect x="2261" y="5093" width="247" height="56.6" rx="5"/><text x="2267" y="5110.3"><tspan x="2267">在新的一年里，自己决心认真提高业务、工作</tspan><tspan x="2267" dy="15.3">水平，为公司经济跨越式发展，贡献自己应该</tspan><tspan x="2267" dy="15.3">贡献的力量。</tspan></text></g>
<g id="t-do"><rect x="1719" y="5292" width="117" height="26" rx="5"/><text x="1725" y="5309.3">我想我应努力做到：</text></g>
<g id="t-d1"><rect x="1860" y="5174" width="248" height="87.2" rx="5"/><text x="1866" y="5191.3"><tspan x="1866">第一，加强学习，拓宽知识面。努力学习房产</tspan><tspan x="1866" dy="15.3">专业知识和相关法律常识。加强对房地产发展</tspan><tspan x="1866" dy="15.3">脉络、走向的了解，加强周围环境、同行业发</tspan><tspan x="1866" dy="15.3">展的了解、学习，要对公司的统筹规划、当前</tspan><tspan x="1866" dy="15.3">情况做到心中有数；</tspan></text></g>
<g id="t-d2"><rect x="1860" y="5284" width="248" height="41.3" rx="5"/><text x="1866" y="5301.3"><tspan x="1866">第二，本着实事求是的原则，做到上情下达、</tspan><tspan x="1866" dy="15.3">下情上报；真正做好领导的助手；</tspan></text></g>
<g id="t-d3"><rect x="1860" y="5357" width="248" height="71.9" rx="5"/><text x="1866" y="5374.3"><tspan x="1866">第三，注重本部门的工作作风建设，加强管理</tspan><tspan x="1866" dy="15.3">，团结一致，勤奋工作，形成良好的部门工作</tspan><tspan x="1866" dy="15.3">氛围。不断改进办公室对其他部门的支持能力</tspan><tspan x="1866" dy="15.3">、服务水平。</tspan></text></g>
<g id="t-d3a"><rect x="2132" y="5365" width="246" height="56.6" rx="5"/><text x="2138" y="5382.3"><tspan x="2138">遵守公司内部规章制度，维护公司利益，积极</tspan><tspan x="2138" dy="15.3">为公司创造更高价值，力争取得更大的工作成</tspan><tspan x="2138" dy="15.3">绩。</tspan></text></g>
</g>

<g class="p">
<g id="p-1"><rect x="486" y="1543" width="247" height="117.8" rx="5"/><text x="492" y="1560.3"><tspan x="492">时间真的是在我们指尖悄悄流过。20__年的</tspan><tspan x="492" dy="15.3">大半年又已经从我的人生中走过，马上迎来新</tspan><tspan x="492" dy="15.3">的又一个半年，有期待也有恐慌。大半年在家</tspan><tspan x="492" dy="15.3">里上网课、读书度过，遇上疫情让我之前的计</tspan><tspan x="492" dy="15.3">划一切打乱，真实计划赶不上变化，永远想不</tspan><tspan x="492" dy="15.3">到下一刻会发生什么，但我们还需给明天打算</tspan><tspan x="492" dy="15.3">一下。</tspan></text></g>
<g id="p-2"><rect x="486" y="1687" width="247" height="102.5" rx="5"/><text x="492" y="1704.3"><tspan x="492">看着又一批同学毕业了，有点不舍，想想真的</tspan><tspan x="492" dy="15.3">很快，看着他们，思考我们，我们也不多，四</tspan><tspan x="492" dy="15.3">年就这么过了，我们留下来了什么？带走了什</tspan><tspan x="492" dy="15.3">么？还有什么遗憾？实际这不是我现在该考虑</tspan><tspan x="492" dy="15.3">的但还是得想想。愿他们都能为自己的任何选</tspan><tspan x="492" dy="15.3">择奋斗到底，实现自己的真正价值，保重！</tspan></text></g>
<g id="p-3"><rect x="486" y="1816" width="247" height="41.3" rx="5"/><text x="492" y="1833.3"><tspan x="492">现在还是总结一下，反省一下半年来的情况，</tspan><tspan x="492" dy="15.3">以便更好的做好以后的自己。</tspan></text></g>
<g id="p-4"><rect x="553" y="1884" width="180" height="26" rx="5"/><text x="559" y="1901.3">（一）回顾2020半年的基本情况</text></g>
<g id="p-5"><rect x="486" y="1936" width="247" height="102.5" rx="5"/><text x="492" y="1953.3"><tspan x="492">1、思想政治方面。坚持每天通过学习强国学</tspan><tspan x="492" dy="15.3">习，完成每天的打活动。学习理论也是按照自</tspan><tspan x="492" dy="15.3">己的约定时间完成相关的理论，补充自己的理</tspan><tspan x="492" dy="15.3">论功底，做到思想上不落后；不定时的关注时</tspan><tspan x="492" dy="15.3">事新闻，了解时事政治，使自己的知识面更广</tspan><tspan x="492" dy="15.3">。</tspan></text></g>
<g id="p-6"><rect x="486" y="2065" width="247" height="194.3" rx="5"/><text x="492" y="2082.3"><tspan x="492">2、学习方面。今年由于疫情原因，整个教学</tspan><tspan x="492" dy="15.3">工作搬到线上进行，新的教与学的方式，给老</tspan><tspan x="492" dy="15.3">师和同学带来了不一样的体验。因为在家线上</tspan><tspan x="492" dy="15.3">学习，基本自己除了上网课之外就有空余时间</tspan><tspan x="492" dy="15.3">留出来，进行课外书籍阅读，增加了自己的知</tspan><tspan x="492" dy="15.3">识广度和深度。这学期的课程也是非常吸引自</tspan><tspan x="492" dy="15.3">己，学习的非常认真，收获满满，甚是欢喜。</tspan><tspan x="492" dy="15.3">老师的引导，使自己对课程相关理论越来越感</tspan><tspan x="492" dy="15.3">兴趣，这也是这学期最大的收获，课程的作业</tspan><tspan x="492" dy="15.3">也是大学以来最具挑战和作业最多的，收获多</tspan><tspan x="492" dy="15.3">多。非常班上的同学带给我的成长，从他们身</tspan><tspan x="492" dy="15.3">上我看到了我的不足，他们促进了我的进步。</tspan></text></g>
<g id="p-7"><rect x="486" y="2284" width="247" height="71.9" rx="5"/><text x="492" y="2301.3"><tspan x="492">3、生活上，作风方面放松比较严重，但还是</tspan><tspan x="492" dy="15.3">保持着一定习惯。在平常生活上，保持一颗平</tspan><tspan x="492" dy="15.3">常心，做好自己，帮助别人，做好军人的本色</tspan><tspan x="492" dy="15.3">。</tspan></text></g>
<g id="p-7a"><rect x="359" y="2307" width="103" height="26" rx="5"/><text x="365" y="2324.3">（二）半年的收获</text></g>
<g id="p-8"><rect x="486" y="2383" width="247" height="41.3" rx="5"/><text x="492" y="2400.3"><tspan x="492">1、事物的两面性，要保持辩证思维看问题，</tspan><tspan x="492" dy="15.3">做事要有逆思维处事方式。</tspan></text></g>
<g id="p-9"><rect x="486" y="2452" width="247" height="41.3" rx="5"/><text x="492" y="2469.3"><tspan x="492">2、做事之前，要做好自我策划，三步法做好</tspan><tspan x="492" dy="15.3">工作。</tspan></text></g>
<g id="p-10"><rect x="514" y="2519" width="219" height="26" rx="5"/><text x="520" y="2536.3">3、抱有一颗感谢的心，时刻学会原谅。</text></g>
<g id="p-11"><rect x="573" y="2571" width="160" height="26" rx="5"/><text x="579" y="2588.3">4、要善于总结，做好总结。</text></g>
<g id="p-12"><rect x="486" y="2623" width="247" height="41.3" rx="5"/><text x="492" y="2640.3"><tspan x="492">5、任何事要试着亲自去做，多锻炼一下自己</tspan><tspan x="492" dy="15.3">，要会学习。</tspan></text></g>
<g id="p-12a"><rect x="359" y="2631" width="103" height="26" rx="5"/><text x="365" y="2648.3">（三）下半年计划</text></g>
<g id="p-13"><rect x="576" y="2690" width="157" height="26" rx="5"/><text x="582" y="2707.3">1、做好复习工作，考研成功</text></g>
<g id="p-14"><rect x="597" y="2743" width="136" height="26" rx="5"/><text x="603" y="2760.3">2、复习英语，考过四级</text></g>
<g id="p-15"><rect x="609" y="2797" width="124" height="26" rx="5"/><text x="615" y="2814.3">3、顺利完成毕业设计</text></g>
<g id="p-16"><rect x="633" y="2849" width="100" height="26" rx="5"/><text x="639" y="2866.3">4、完成读书计划</text></g>
</g>

<g class="s">
<g id="s-0"><rect x="487" y="3466" width="246" height="71.9" rx="5"/><text x="493" y="3483.3"><tspan x="493">在过去的半年里，销售部在总经理的正确领导</tspan><tspan x="493" dy="15.3">及其它部门的密切配合下，基本完成了今年上</tspan><tspan x="493" dy="15.3">半年的工作任务。部门的工作也逐渐步入成熟</tspan><tspan x="493" dy="15.3">。在这半年里我们具体工作内容如下:</tspan></text></g>
<g id="s-h1"><rect x="381" y="3195" width="83" height="26" rx="5"/><text x="387" y="3212.3">一、对外销售</text></g>
<g id="s-h2"><rect x="381" y="3559" width="83" height="26" rx="5"/><text x="387" y="3576.3">二、对内管理</text></g>
<g id="s-h3"><rect x="381" y="3759" width="83" height="26" rx="5"/><text x="387" y="3776.3">三、不足之处</text></g>
<g id="s-b1"><rect x="52" y="2860" width="247" height="224.9" rx="5"/><text x="58" y="2877.3"><tspan x="58">销售部在上半年的工作中，采取了多种方式进</tspan><tspan x="58" dy="15.3">行对外销售。对于一些老客户，我们定期进行</tspan><tspan x="58" dy="15.3">拜访，及时了解客户的需求；对于新客户，我</tspan><tspan x="58" dy="15.3">们多次登门拜访，并且配合一些宣传资料，让</tspan><tspan x="58" dy="15.3">客户对我们酒店有了更多的了解。在这半年里</tspan><tspan x="58" dy="15.3">，销售部共走访了多家企事业单位，并与其中</tspan><tspan x="58" dy="15.3">的部分单位签订了协议，为酒店带来了稳定的</tspan><tspan x="58" dy="15.3">客源。同时，我们还积极参加各类展销会，扩</tspan><tspan x="58" dy="15.3">大酒店的知名度和影响力，努力开拓新的客源</tspan><tspan x="58" dy="15.3">市场，使酒店的客房出租率和餐饮收入较去年</tspan><tspan x="58" dy="15.3">同期都有了一定的提高。在销售工作中，我们</tspan><tspan x="58" dy="15.3">注重维护酒店的形象，热情对待每一位客户，</tspan><tspan x="58" dy="15.3">认真做好每一次接待工作，基本完成了上半年</tspan><tspan x="58" dy="15.3">的销售任务。</tspan></text></g>
<g id="s-b2"><rect x="52" y="3111" width="247" height="102.5" rx="5"/><text x="58" y="3128.3"><tspan x="58">在会议接待方面，由于我们酒店所处位置的特</tspan><tspan x="58" dy="15.3">殊性，我们把会议接待作为销售工作的重点，</tspan><tspan x="58" dy="15.3">积极与各单位联系，争取更多的会议在我们酒</tspan><tspan x="58" dy="15.3">店召开。在接待过程中，我们严格按照会议的</tspan><tspan x="58" dy="15.3">要求，认真做好会前、会中、会后的各项服务</tspan><tspan x="58" dy="15.3">工作。</tspan></text></g>
<g id="s-b3"><rect x="52" y="3239" width="247" height="117.8" rx="5"/><text x="58" y="3256.3"><tspan x="58">在团队接待方面，我们加强了与各旅行社的联</tspan><tspan x="58" dy="15.3">系与合作，及时了解旅行社的团队信息，并根</tspan><tspan x="58" dy="15.3">据酒店的实际情况制定了相应的团队价格，吸</tspan><tspan x="58" dy="15.3">引了大量的旅游团队入住酒店。在接待团队的</tspan><tspan x="58" dy="15.3">过程中，我们认真听取客人的意见和建议，不</tspan><tspan x="58" dy="15.3">断改进我们的服务，使客人能够满意而来，满</tspan><tspan x="58" dy="15.3">意而归。</tspan></text></g>
<g id="s-b4"><rect x="52" y="3392" width="247" height="102.5" rx="5"/><text x="58" y="3409.3"><tspan x="58">同时在这一年里我们接待了各种大中小型会议</tspan><tspan x="58" dy="15.3">，对于每个会议的接待，所有部门都能够认真</tspan><tspan x="58" dy="15.3">的配合销售部，圆满完成会议的接待工作，客</tspan><tspan x="58" dy="15.3">人对我们的工作给予了肯定。在这里由衷的感</tspan><tspan x="58" dy="15.3">谢各个部门的领导及员工对我们销售部工作的</tspan><tspan x="58" dy="15.3">支持。</tspan></text></g>
<g id="s-web"><rect x="110" y="3522" width="248" height="102.5" rx="5"/><text x="116" y="3539.3"><tspan x="116">酒店拥有自己的网站，由销售部负责网站的维</tspan><tspan x="116" dy="15.3">护和网页内容的更新，通过网络进行宣传扩大</tspan><tspan x="116" dy="15.3">影响力，并及时准确的把酒店的动态、新闻发</tspan><tspan x="116" dy="15.3">布出去，让更多的人了解酒店，同时我们提出</tspan><tspan x="116" dy="15.3">新的酒店网站建设方案，这为今后酒店网站的</tspan><tspan x="116" dy="15.3">发展奠定了基础。</tspan></text></g>
<g id="s-n1"><rect x="110" y="3650" width="248" height="41.3" rx="5"/><text x="116" y="3667.3"><tspan x="116">1、对外销售需加强，现在我们散客相对比较</tspan><tspan x="116" dy="15.3">少；</tspan></text></g>
<g id="s-n2"><rect x="163" y="3717" width="195" height="26" rx="5"/><text x="169" y="3734.3">2、对会议信息得不到及时的了解；</text></g>
<g id="s-n3"><rect x="110" y="3769" width="248" height="41.3" rx="5"/><text x="116" y="3786.3"><tspan x="116">3、在接待工作中有时不够仔细，在一些细节</tspan><tspan x="116" dy="15.3">上不太注意，考虑的问题也不够全面；</tspan></text></g>
<g id="s-n4"><rect x="110" y="3837" width="248" height="71.9" rx="5"/><text x="116" y="3854.3"><tspan x="116">4、有时由于沟通的不及时信息掌握的不够准</tspan><tspan x="116" dy="15.3">确；影响了酒店整体的销售与接待，在今后的</tspan><tspan x="116" dy="15.3">工作要认真细致，尽量避免，能够做到及时的</tspan><tspan x="116" dy="15.3">沟通，从而减少工作失误。</tspan></text></g>
</g>

<g id="watermarks" class="wm" text-anchor="middle">
<text x="650" y="560" transform="rotate(-30 650 520)">树图 shutu.cn</text>
<text x="1935" y="560" transform="rotate(-30 1935 520)">树图 shutu.cn</text>
<text x="650" y="1560" transform="rotate(-30 650 1520)">树图 shutu.cn</text>
<text x="1935" y="1560" transform="rotate(-30 1935 1520)">树图 shutu.cn</text>
<text x="650" y="2560" transform="rotate(-30 650 2520)">树图 shutu.cn</text>
<text x="1935" y="2560" transform="rotate(-30 1935 2520)">树图 shutu.cn</text>
<text x="650" y="3560" transform="rotate(-30 650 3520)">树图 shutu.cn</text>
<text x="1935" y="3560" transform="rotate(-30 1935 3520)">树图 shutu.cn</text>
<text x="650" y="4560" transform="rotate(-30 650 4520)">树图 shutu.cn</text>
<text x="1935" y="4560" transform="rotate(-30 1935 4520)">树图 shutu.cn</text>
<text x="650" y="5280" transform="rotate(-30 650 5240)">树图 shutu.cn</text>
<text x="1935" y="5280" transform="rotate(-30 1935 5240)">树图 shutu.cn</text>
</g>
</g>
</svg>
